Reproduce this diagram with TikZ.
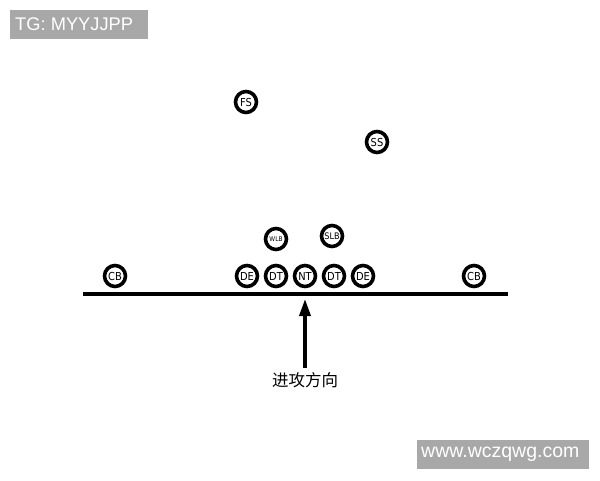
\documentclass[tikz,border=0pt]{standalone}
\usepackage{fontspec}
\setmainfont{Liberation Sans}
\newfontfamily\cjk{Noto Sans CJK SC}
\newfontfamily\condfont{DejaVu Sans Condensed}
\usetikzlibrary{arrows.meta}
\tikzset{
  player/.style={circle,draw=black,line width=3.6pt,minimum size=21pt,inner sep=0pt,fill=white,font=\condfont\fontsize{11}{11}\selectfont},
  smallw/.style={font=\condfont\fontsize{6.5}{6.5}\selectfont},
  smalls/.style={font=\condfont\fontsize{9}{9}\selectfont}
}
\begin{document}
\begin{tikzpicture}[x=1pt,y=-1pt]
\useasboundingbox[fill=white] (0,0) rectangle (600,480);
\fill[black!34] (10,10) rectangle (148,39);
\node[text=white,font=\fontsize{18.3}{18}\selectfont,anchor=west,inner sep=0pt] (tg) at (15,24.5) {TG: MYYJJPP};
\fill[black!34] (417,440) rectangle (589,469);
\node[text=white,font=\fontsize{19.5}{19}\selectfont,anchor=west,inner sep=0pt] (wm) at (421,454.5) {www.wczqwg.com};
\coordinate (l) at (83,294);
\coordinate (r) at (508,294);
\draw[line width=3.2pt] (l) -- (r);
\node[player] (fs) at (246,102) {FS};
\node[player] (ss) at (377,142) {SS};
\node[player,smallw] (wlb) at (276,239) {WLB};
\node[player,smalls] (slb) at (332,236) {SLB};
\node[player] (cb1) at (115,276) {CB};
\node[player] (de1) at (247,276) {DE};
\node[player] (dt1) at (276,276) {DT};
\node[player] (nt) at (305,276) {NT};
\node[player] (dt2) at (334,276) {DT};
\node[player] (de2) at (363,276) {DE};
\node[player] (cb2) at (474,276) {CB};
\node[font=\cjk\fontsize{16.5}{17}\selectfont] (lbl) at (305,380) {进攻方向};
\coordinate (tip) at (305,299);
\draw[line width=3.4pt,-{Triangle[length=17pt,width=11pt]}] (lbl.north) ++(0,-1) -- (tip);
\end{tikzpicture}
\end{document}
